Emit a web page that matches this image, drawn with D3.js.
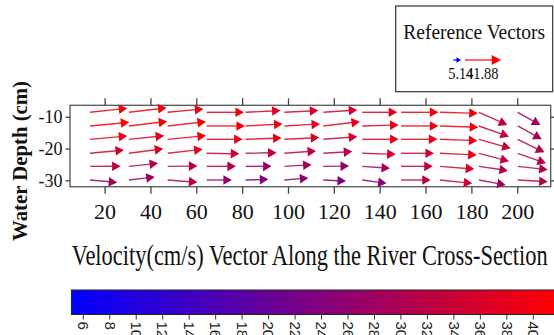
<!DOCTYPE html>
<html>
<head>
<meta charset="utf-8">
<script src="https://cdn.jsdelivr.net/npm/d3@7"></script>
<style>
  html, body { margin: 0; padding: 0; background: #fff; }
  svg { display: block; }
</style>
</head>
<body>
<svg id="chart" width="554" height="335"></svg>
<script>
// stations across the section (cm) and measuring depths (cm)
const stations = [13.6, 30.6, 47.5, 64.5, 81.5, 98.4, 115.4, 132.4, 149.3, 166.3, 183.3, 200.2];
const depths = [-8.6, -12.9, -17.1, -21.5, -25.6, -29.9];

// horizontal velocity (cm/s), one row per depth
const uVel = [
  [39.3, 39.7, 37.6, 39.3, 36.8, 35.8, 35.8, 36.8, 39.3, 39.7, 29.8, 23.9],
  [41.4, 40.3, 40.3, 40.3, 38.9, 37.6, 38.6, 38.2, 39.3, 40.3, 31.6, 25.3],
  [39.3, 37.1, 40.3, 37.9, 37.9, 36.8, 35.8, 38.2, 38.2, 39.3, 33.4, 28.1],
  [35.8, 36.1, 36.8, 34.4, 32.6, 33.4, 30.5, 35.1, 34.7, 38.6, 31.6, 29.8],
  [32.3, 30.7, 31.3, 30.8, 27.4, 28.7, 27.1, 29.2, 33.4, 36.1, 30.5, 31.6],
  [28.7, 27.2, 31.3, 26.6, 23.9, 25.3, 23.9, 25.6, 31.3, 34.0, 28.1, 31.6]
];
// vertical velocity (cm/s), positive upward
const wVel = [
  [4.2, 4.7, 3.5, 0, 1.8, 1.8, 2.4, 0, 0, -1.1, -13.4, -13.4],
  [3.9, 4.8, 4.5, 0, 2.1, 2.1, 4.5, 1.1, 0, -1.4, -11.3, -14.0],
  [3.5, 3.8, 3.9, 0, 1.4, 1.8, 2.8, 0, 0, -1.4, -9.5, -13.7],
  [3.5, 4.8, 4.2, -0.5, 0.7, 2.4, 1.8, -1.1, 0, -1.8, -8.4, -10.5],
  [0.2, 3.2, 0.3, 0, 0, 1.8, 0.3, -2.1, 0, -2.8, -4.5, -3.5],
  [-2.6, 3.2, -2.4, 0, 0.7, 2.1, -1.1, -3.5, 0, -3.5, -5.3, -1.8]
];

const xTicks = [20, 40, 60, 80, 100, 120, 140, 160, 180, 200];
const yTicks = [-10, -20, -30];
const cbTicks = d3.range(6, 41, 2);
const refVectors = [5.14, 41.88];

const serif = '"Liberation Serif", "Times New Roman", serif';
const sans = '"Liberation Sans", Arial, sans-serif';

const svg = d3.select('#chart');
const plot = {left: 70, right: 550.7, top: 105.3, bottom: 186.7};

const x = d3.scaleLinear().domain([4.9, 214.6]).range([plot.left, plot.right]);
const y = d3.scaleLinear().domain([-32, -6.4]).range([plot.bottom, plot.top]);
const vMin = d3.min(refVectors), vMax = d3.max(refVectors);
const color = d3.scaleLinear().domain([vMin, vMax]).range(['#0000ff', '#ff0000']).clamp(true);
const vLen = d3.scaleLinear().domain([0, vMax]).range([0, 39.8]);
const refLen = d3.scaleLinear().domain([0, vMax]).range([0, 36]);

function arrow(g, x0, y0, dx, dy, col, headL, headW) {
  const len = Math.hypot(dx, dy);
  const ux = dx / len, uy = dy / len;
  const bx = x0 + dx - ux * headL, by = y0 + dy - uy * headL;
  g.append('line')
    .attr('x1', x0).attr('y1', y0).attr('x2', bx + ux).attr('y2', by + uy)
    .attr('stroke', col).attr('stroke-width', 1.4).attr('stroke-opacity', 0.85);
  g.append('path')
    .attr('d', `M${x0 + dx},${y0 + dy}L${bx - uy * headW},${by + ux * headW}L${bx + uy * headW},${by - ux * headW}Z`)
    .attr('fill', col);
}

// frame
svg.append('rect')
  .attr('x', plot.left).attr('y', plot.top)
  .attr('width', plot.right - plot.left).attr('height', plot.bottom - plot.top)
  .attr('fill', 'none').attr('stroke', '#555').attr('stroke-width', 1.3);

// axes
const axG = svg.append('g');
axG.append('g').attr('class', 'xbot').attr('transform', `translate(0,${plot.bottom})`)
  .call(d3.axisBottom(x).tickValues(xTicks).tickSize(7).tickSizeOuter(0).tickPadding(10));
axG.append('g').attr('transform', `translate(0,${plot.top})`)
  .call(d3.axisTop(x).tickValues(xTicks).tickSize(7).tickSizeOuter(0).tickFormat(''));
axG.append('g').attr('class', 'yleft').attr('transform', `translate(${plot.left},0)`)
  .call(d3.axisLeft(y).tickValues(yTicks).tickSize(4.5).tickSizeOuter(0).tickPadding(3).tickFormat(d => String(d)));
axG.append('g').attr('transform', `translate(${plot.right},0)`)
  .call(d3.axisRight(y).tickValues(yTicks).tickSize(4.5).tickSizeOuter(0).tickFormat(''));
axG.selectAll('.domain').remove();
axG.selectAll('.tick line').attr('stroke', '#444').attr('stroke-width', 1.3);
axG.selectAll('.tick text').attr('font-family', serif).attr('fill', '#111');
axG.select('.xbot').selectAll('text').attr('font-size', 22);
axG.select('.yleft').selectAll('text').attr('font-size', 18);

// vectors
const vecG = svg.append('g');
depths.forEach((dep, r) => {
  stations.forEach((st, c) => {
    const u = uVel[r][c], w = wVel[r][c];
    const mag = Math.hypot(u, w);
    const L = vLen(mag);
    arrow(vecG, x(st), y(dep), L * u / mag, -L * w / mag, color(mag), 8.5, 4.8);
  });
});

// axis titles
svg.append('text')
  .attr('transform', 'translate(26.5,161) rotate(-90)')
  .attr('text-anchor', 'middle')
  .attr('font-family', serif).attr('font-weight', 'bold').attr('font-size', 21)
  .attr('textLength', 160).attr('lengthAdjust', 'spacingAndGlyphs')
  .attr('fill', '#111')
  .text('Water Depth (cm)');

svg.append('text')
  .attr('x', 71.7).attr('y', 265.3)
  .attr('font-family', serif).attr('font-size', 30)
  .attr('textLength', 476).attr('lengthAdjust', 'spacingAndGlyphs')
  .attr('fill', '#111')
  .text('Velocity(cm/s) Vector Along the River Cross-Section');

// legend
const lg = svg.append('g');
lg.append('rect')
  .attr('x', 395.7).attr('y', 6).attr('width', 157).attr('height', 85.7)
  .attr('fill', '#fff').attr('stroke', '#333').attr('stroke-width', 1.2);
lg.append('text')
  .attr('x', 403.3).attr('y', 39.3)
  .attr('font-family', serif).attr('font-size', 21)
  .attr('textLength', 141.7).attr('lengthAdjust', 'spacingAndGlyphs')
  .attr('fill', '#111')
  .text('Reference Vectors');
const refX = [453.3, 465];
refVectors.forEach((v, i) => {
  const L = Math.max(refLen(v), 7.7);
  const small = L < 12;
  arrow(lg, refX[i], 60, L, 0, color(v), small ? 4.5 : 9.3, small ? 2.8 : 5);
});
lg.append('text')
  .attr('x', 448.3).attr('y', 79.3)
  .attr('font-family', serif).attr('font-size', 17)
  .attr('textLength', 25).attr('lengthAdjust', 'spacingAndGlyphs')
  .attr('fill', '#111')
  .text(refVectors[0].toFixed(2));
lg.append('text')
  .attr('x', 466).attr('y', 79.3)
  .attr('font-family', serif).attr('font-size', 17)
  .attr('textLength', 32.5).attr('lengthAdjust', 'spacingAndGlyphs')
  .attr('fill', '#111')
  .text(refVectors[1].toFixed(2));

// colour bar
const cb = {top: 290, bottom: 314.5};
const cbX = d3.scaleLinear().domain([6, 40]).range([82.8, 532.8]);
const grad = svg.append('defs').append('linearGradient')
  .attr('id', 'cbGrad').attr('gradientUnits', 'userSpaceOnUse')
  .attr('x1', cbX(vMin)).attr('x2', cbX(vMax)).attr('y1', 0).attr('y2', 0);
d3.range(0, 1.0001, 0.1).forEach(t => {
  const v = vMin + t * (vMax - vMin);
  grad.append('stop').attr('offset', t).attr('stop-color', color(v));
});
svg.append('rect')
  .attr('x', cbX(vMin)).attr('y', cb.top)
  .attr('width', cbX(vMax) - cbX(vMin)).attr('height', cb.bottom - cb.top)
  .attr('fill', 'url(#cbGrad)').attr('stroke', '#222').attr('stroke-width', 1);
const cbAxis = svg.append('g').attr('transform', `translate(0,${cb.bottom})`)
  .call(d3.axisBottom(cbX).tickValues(cbTicks).tickSize(5).tickSizeOuter(0));
cbAxis.select('.domain').remove();
cbAxis.selectAll('.tick line').attr('stroke', '#333');
cbAxis.selectAll('.tick text')
  .attr('transform', 'rotate(90)')
  .attr('x', 7).attr('y', 0).attr('dy', '0.35em')
  .attr('text-anchor', 'start')
  .attr('font-family', sans).attr('font-size', 15).attr('fill', '#222');
</script>
</body>
</html>
